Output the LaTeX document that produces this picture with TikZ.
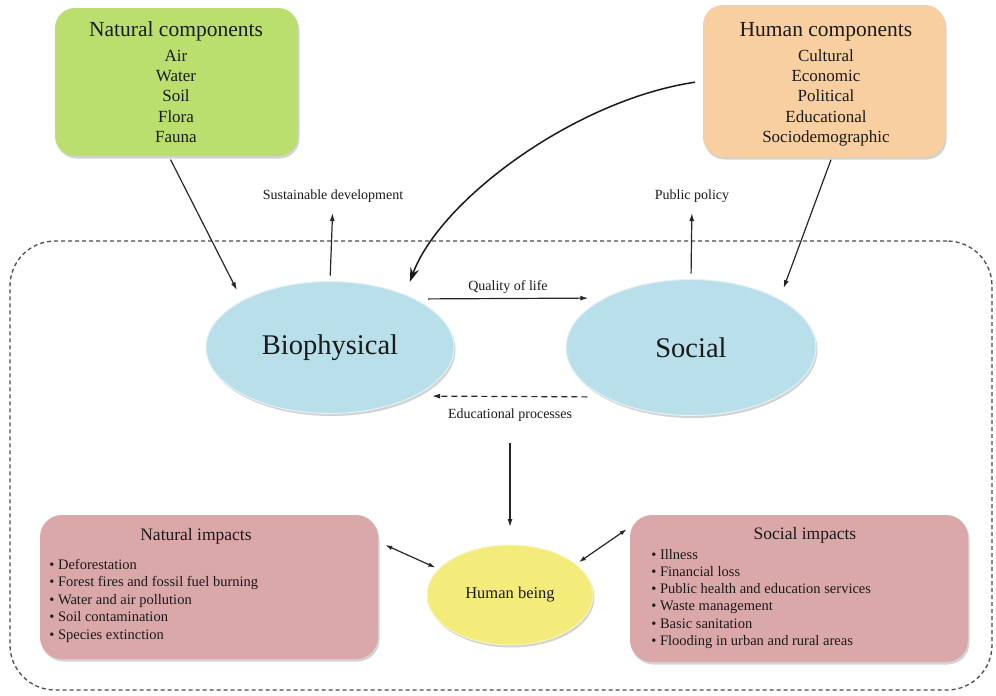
\documentclass[tikz,border=0pt]{standalone}
\usepackage{fontspec}
\setmainfont{Liberation Serif}
\usetikzlibrary{shapes.geometric,arrows.meta,shadows}
\definecolor{txt}{HTML}{1A1A1A}
\definecolor{greenbox}{HTML}{BBDF6E}
\definecolor{orangebox}{HTML}{F8CFA0}
\definecolor{pinkbox}{HTML}{DBA8A9}
\definecolor{ellblue}{HTML}{B9DFEA}
\definecolor{ellyellow}{HTML}{F3EC7A}
\begin{document}
\begin{tikzpicture}[x=1pt,y=-1pt,
  every node/.style={text=txt, outer sep=0pt},
  shade/.style={drop shadow={opacity=0.35,shadow xshift=1.5pt,shadow yshift=-2.5pt}},
  compbox/.style={shade, rounded corners=20pt, anchor=north west, draw=none},
  impbox/.style={shade, rounded corners=22pt, anchor=north west, draw=none},
  blob/.style={shade, ellipse, draw=white!60!ellblue, line width=1pt, fill=ellblue, font=\fontsize{28.5}{30}\selectfont},
  frame/.style={draw=black!70, line width=1.3pt, dash pattern=on 4pt off 3pt, rounded corners=45pt, anchor=north west},
  ctitle/.style={font=\fontsize{21.5}{24}\selectfont, anchor=base},
  citem/.style={font=\fontsize{17}{19}\selectfont, anchor=base},
  ititle/.style={font=\fontsize{17.5}{20}\selectfont, anchor=base},
  litem/.style={font=\fontsize{14.5}{17}\selectfont, anchor=base west},
  elabel/.style={font=\fontsize{14}{16}\selectfont, anchor=base, inner sep=0pt},
  arr/.style={draw=black!85, line width=1.2pt, -{Latex[length=8pt,width=5pt]}},
  arrboth/.style={draw=black!85, line width=1.2pt, {Latex[length=7pt,width=4.5pt]}-{Latex[length=7pt,width=4.5pt]}},
  bigarr/.style={draw=black!90, line width=1.5pt, -{Stealth[length=14pt,width=9pt]}}
]
\useasboundingbox (0,0) rectangle (996,696);

% system frame
\node[frame, minimum width=982pt, minimum height=449pt] (sys) at (10,241) {};

% component boxes
\node[compbox, fill=greenbox, minimum width=243pt, minimum height=148pt] (nc) at (55,8) {};
\node[ctitle] (nct) at (176,36) {Natural components};
\foreach \t [count=\i] in {Air,Water,Soil,Flora,Fauna}
  \node[citem] (nc\i) at (176,{61.5+20.2*(\i-1)}) {\t};

\node[compbox, fill=orangebox, minimum width=242pt, minimum height=152pt] (hc) at (703,5) {};
\node[ctitle] (hct) at (826,36) {Human components};
\foreach \t [count=\i] in {Cultural,Economic,Political,Educational,Sociodemographic}
  \node[citem] (hc\i) at (826,{61.5+20.2*(\i-1)}) {\t};

% ellipses
\node[blob, minimum width=248pt, minimum height=132pt] (bio) at (330,347.5) {Biophysical};
\node[blob, minimum width=250pt, minimum height=136pt] (soc) at (691,347.5) {Social};

% labels
\node[elabel] (sd) at (333,199) {Sustainable development};
\node[elabel] (pp) at (692,199) {Public policy};
\node[elabel] (ql) at (508,290) {Quality of life};
\node[elabel] (ep) at (510,418) {Educational processes};

% human being
\node[shade, ellipse, fill=ellyellow, draw=white!50!ellyellow, line width=1pt, minimum width=166pt, minimum height=100pt, font=\fontsize{16.5}{18}\selectfont] (hb) at (510,595) {Human being};

% impact boxes
\node[impbox, fill=pinkbox, minimum width=338pt, minimum height=144pt] (ni) at (40,515) {};
\node[ititle] (nit) at (196,540) {Natural impacts};
\foreach \t [count=\i] in {Deforestation,Forest fires and fossil fuel burning,Water and air pollution,Soil contamination,Species extinction}
  \node[litem] (ni\i) at (46,{569+17.5*(\i-1)}) {• \t};

\node[impbox, fill=pinkbox, minimum width=338pt, minimum height=147pt] (si) at (630,515) {};
\node[ititle] (sit) at (805,539) {Social impacts};
\foreach \t [count=\i] in {Illness,Financial loss,Public health and education services,Waste management,Basic sanitation,Flooding in urban and rural areas}
  \node[litem] (si\i) at (648,{559+17.3*(\i-1)}) {• \t};

% connectors
\draw[arr, shorten <=4pt, shorten >=12pt] (nc.-96) -- (bio.north west);
\draw[arr, shorten <=3pt, shorten >=12pt] (hc.-84) -- (soc.north east);
\draw[bigarr, shorten <=8pt, shorten >=14pt] (hc.west) .. controls (575,100) and (440,200) .. (bio.35);
\draw[arr, shorten <=6pt, shorten >=11pt] (bio.north) -- (sd.south);
\draw[arr, shorten <=6pt, shorten >=11pt] (soc.north) -- (pp.south);
\draw[arr, shorten <=14pt, shorten >=17pt] (bio.30) -- (soc.150);
\draw[arr, dash pattern=on 6pt off 4pt, shorten <=18pt, shorten >=18pt] (soc.210) -- (bio.-30);
\draw[arr, shorten <=22pt, shorten >=18pt] (ep.south) -- (hb.north);
\draw[arrboth, shorten <=8pt, shorten >=4pt] (ni.15) -- (hb.160);
\draw[arrboth, shorten <=4pt, shorten >=4pt] (si.160) -- (hb.25);
\end{tikzpicture}
\end{document}
